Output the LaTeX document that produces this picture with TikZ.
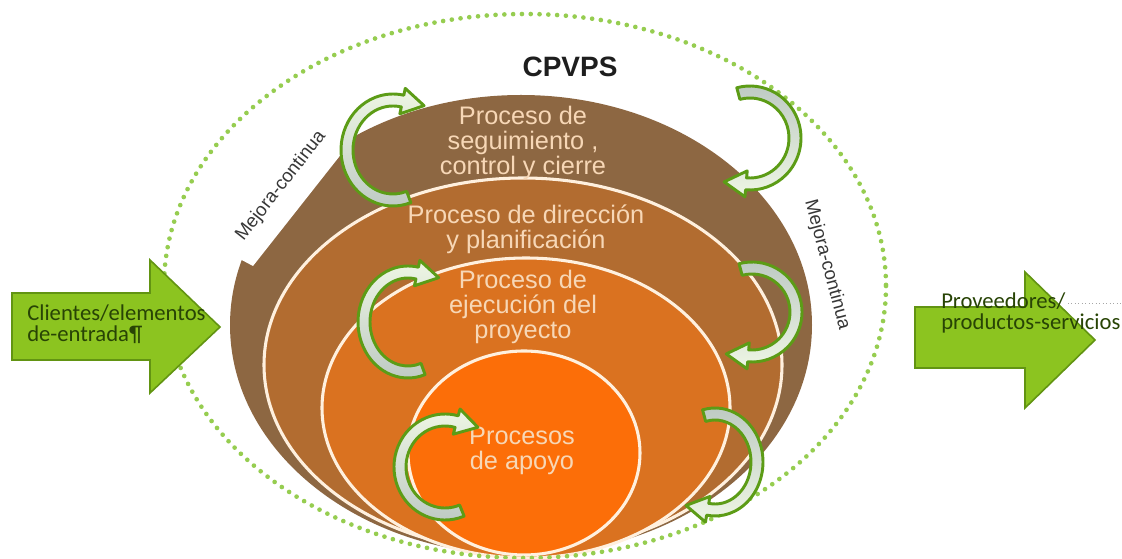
\documentclass[tikz,border=0pt]{standalone}
\usepackage{fontspec}
\setmainfont{Liberation Sans}
\newfontfamily\calib{Carlito}
\usetikzlibrary{calc}

\definecolor{brownA}{RGB}{141,103,66}
\definecolor{brownB}{RGB}{178,108,48}
\definecolor{orangeC}{RGB}{218,114,32}
\definecolor{orangeD}{RGB}{252,110,8}
\definecolor{ringline}{RGB}{255,240,222}
\definecolor{peach}{RGB}{247,215,182}
\definecolor{dotgreen}{RGB}{150,205,80}
\definecolor{blockgreen}{RGB}{140,196,32}
\definecolor{blockedge}{RGB}{98,148,18}
\definecolor{blocktext}{RGB}{40,68,5}
\definecolor{arrowedge}{RGB}{92,156,22}
\definecolor{arrowlight}{RGB}{238,246,228}
\definecolor{arrowgray}{RGB}{188,200,194}
\definecolor{mejoratext}{RGB}{55,55,55}
\definecolor{titletext}{RGB}{30,30,30}

\newcommand{\cycarrow}[7]{%
 \pgfmathsetmacro\cyaO{#3+6}\pgfmathsetmacro\cybO{#4+6}%
 \pgfmathsetmacro\cyaI{#3-6}\pgfmathsetmacro\cybI{#4-6}%
 \pgfmathsetmacro\cyaH{#3+13}\pgfmathsetmacro\cybH{#4+13}%
 \pgfmathsetmacro\cyaJ{#3-13}\pgfmathsetmacro\cybJ{#4-13}%
 \path[#7] ($(#1,#2)+({\cyaO*cos(#5)},{\cybO*sin(#5)})$)
   arc[start angle=#5,end angle=#6,x radius=\cyaO,y radius=\cybO]
   -- ($(#1,#2)+({\cyaH*cos(#6)},{\cybH*sin(#6)})$)
   -- ($(#1,#2)+({#3*cos(#6)},{#4*sin(#6)})+({#6+90}:22)$)
   -- ($(#1,#2)+({\cyaJ*cos(#6)},{\cybJ*sin(#6)})$)
   -- ($(#1,#2)+({\cyaI*cos(#6)},{\cybI*sin(#6)})$)
   arc[start angle=#6,end angle=#5,x radius=\cyaI,y radius=\cybI]
   -- cycle;}

\tikzset{
 ringtext/.style={text=peach, font=\fontsize{19}{18.75}\selectfont, align=center, inner sep=0pt, anchor=north},
 ringedge/.style={draw=ringline, line width=2.3pt},
 cyclight/.style={draw=arrowedge, line width=2.2pt, line join=round, top color=arrowlight, bottom color=arrowgray},
 cycdark/.style={draw=arrowedge, line width=2.2pt, line join=round, top color=arrowgray, bottom color=arrowlight},
 block/.style={fill=blockgreen, draw=blockedge, line width=1.2pt, line join=miter},
 blocktxt/.style={text=blocktext, font=\calib\fontsize{17}{15.75}\selectfont, align=left, inner sep=0pt, anchor=west},
 mejora/.style={text=mejoratext, font=\fontsize{14}{16}\selectfont, inner sep=0pt},
}

\begin{document}
\begin{tikzpicture}[x=0.75pt,y=-0.75pt]
\useasboundingbox (0,0) rectangle (1122,559);
\fill[white] (0,0) rectangle (1122,559);

% nested process areas
\fill[brownA] (521,325) ellipse [x radius=291, y radius=230];
\fill[white] (253,266) -- (238,258) -- (180,258) -- (180,20) -- (447,20) -- cycle;
\filldraw[fill=brownB, ringedge] (523,365) ellipse [x radius=259, y radius=187];
\filldraw[fill=orangeC, ringedge] (526,408) ellipse [x radius=204, y radius=150];
\filldraw[fill=orangeD, ringedge] (524,453) ellipse [x radius=116, y radius=102];

% labels
\node[ringtext] (t1) at (523,106) {Proceso de\\seguimiento ,\\control y cierre};
\node[ringtext] (t2) at (526,205) {Proceso de dirección\\y planificación};
\node[ringtext] (t3) at (523,270) {Proceso de\\ejecución del\\proyecto};
\node[ringtext] (t4) at (522,427) {Procesos\\de apoyo};

% dotted boundary
\draw[dotgreen, line width=3.5pt, line cap=round, dash pattern=on 0pt off 6.6pt] (525,286) ellipse [x radius=361, y radius=272];

% cycle arrows
\cycarrow{393}{150}{46}{50}{70}{282}{cyclight}
\cycarrow{750}{138}{45}{46}{-105}{95}{cycdark}
\cycarrow{408}{322}{44}{50}{70}{282}{cyclight}
\cycarrow{752}{312}{44}{44}{-105}{95}{cycdark}
\cycarrow{445}{467}{45}{47}{68}{285}{cyclight}
\cycarrow{715}{462}{42}{48}{-105}{100}{cycdark}

% mejora continua
\node[mejora, rotate=52] (m1) at (281,186) {Mejora-continua};
\node[mejora, rotate=-75] (m2) at (827,265) {Mejora-continua};

% input / output block arrows
\filldraw[block] (12,293) -- (150,293) -- (150,260) -- (220,327) -- (150,393) -- (150,360) -- (12,360) -- cycle;
\node[blocktxt] (cl) at (27,324) {Clientes/elementos\\de-entrada¶};
\filldraw[block] (915,307) -- (1025,307) -- (1025,272) -- (1095,340) -- (1025,408) -- (1025,368) -- (915,368) -- cycle;
\node[blocktxt] (pv) at (941,313) {Proveedores/\\productos-servicios};
\coordinate (lead) at (1068,303);
\draw[gray!70, dotted, line width=0.6pt] (lead) -- ++(54,0);

% title
\node[font=\bfseries\fontsize{21}{24}\selectfont, text=titletext] (title) at (570,67) {CPVPS};
\end{tikzpicture}
\end{document}
